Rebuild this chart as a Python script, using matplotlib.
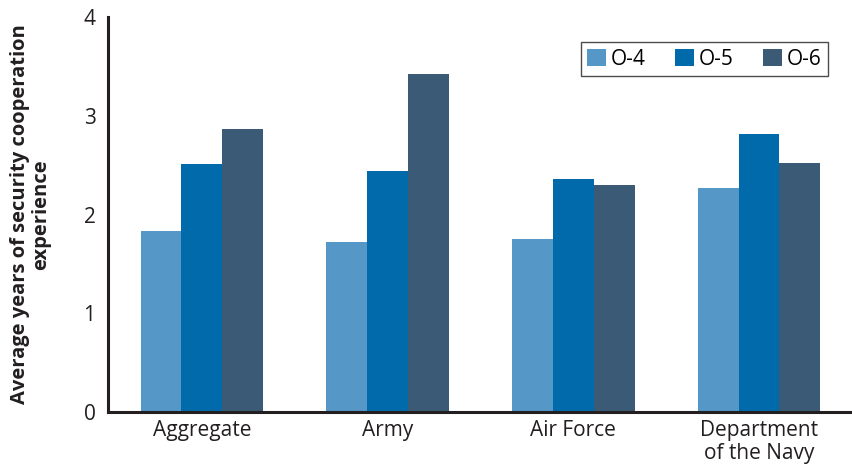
import numpy as np
import matplotlib
matplotlib.use("Agg")
import matplotlib.pyplot as plt

plt.rcParams['font.family'] = ['Open Sans', 'DejaVu Sans']

categories = ['Aggregate', 'Army', 'Air Force', 'Department\nof the Navy']
ranks = ['O-4', 'O-5', 'O-6']
o4 = [1.83, 1.72, 1.75, 2.27]
o5 = [2.51, 2.44, 2.36, 2.82]
o6 = [2.87, 3.42, 2.30, 2.52]
colors = ['#5597c6', '#006aab', '#3a5a75']

fig = plt.figure(figsize=(8.52, 4.73), dpi=100)
ax = fig.add_axes([0.1268, 0.129, 0.873, 0.835])

x = np.arange(len(categories))
width = 0.22
for i, (vals, name) in enumerate(zip([o4, o5, o6], ranks)):
    ax.bar(x + (i - 1) * width, vals, width, color=colors[i], label=name)

ax.set_xlim(-0.505, 3.5)
ax.set_ylim(0, 4)
ax.set_yticks([0, 1, 2, 3, 4])
ax.set_xticks(x)
ax.set_xticklabels(categories, fontsize=15, color='#231f20', linespacing=1.1)
ax.tick_params(axis='both', length=0, labelsize=15, colors='#231f20')
ax.tick_params(axis='x', pad=6)
ax.tick_params(axis='y', pad=9)
for s in ['top', 'right']:
    ax.spines[s].set_visible(False)
for s in ['left', 'bottom']:
    ax.spines[s].set_linewidth(2.2)
    ax.spines[s].set_color('#231f20')

ax.set_ylabel('Average years of security cooperation\nexperience',
              fontsize=14.5, fontweight='bold', color='#231f20', labelpad=23,
              linespacing=1.1)

leg = ax.legend(loc='upper right', bbox_to_anchor=(0.982, 0.962), ncol=3,
                frameon=True, fancybox=False, fontsize=15,
                handlelength=0.9, handleheight=0.9, handletextpad=0.25,
                columnspacing=1.4, borderpad=0.3)
leg.get_frame().set_edgecolor('#231f20')
leg.get_frame().set_linewidth(1.0)

fig.savefig('out.png', dpi=100)
